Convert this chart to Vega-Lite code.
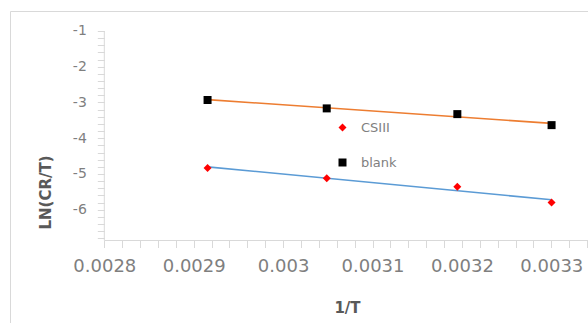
{
  "$schema": "https://vega.github.io/schema/vega-lite/v6.json",
  "width": 583,
  "height": 317,
  "autosize": "none",
  "padding": {"left": 10, "top": 11, "right": -5, "bottom": -5},
  "background": "white",
  "config": {"view": {"stroke": "#d9d9d9", "strokeWidth": 1}},
  "datasets": {
    "pts": [
      {"x": 0.0029155, "y": -2.93, "series": "blank"},
      {"x": 0.0030488, "y": -3.165, "series": "blank"},
      {"x": 0.0031949, "y": -3.325, "series": "blank"},
      {"x": 0.0033003, "y": -3.633, "series": "blank"},
      {"x": 0.0029155, "y": -4.83, "series": "CSIII"},
      {"x": 0.0030488, "y": -5.12, "series": "CSIII"},
      {"x": 0.0031949, "y": -5.36, "series": "CSIII"},
      {"x": 0.0033003, "y": -5.8, "series": "CSIII"}
    ],
    "axislines": [
      {"x": 0.0028, "x2": 0.00334664, "y": -6.86, "y2": -6.86},
      {"x": 0.0028, "x2": 0.0028, "y": -6.86, "y2": -1}
    ]
  },
  "data": {"name": "pts"},
  "layer": [
    {
      "data": {"name": "axislines"},
      "mark": {"type": "rule", "color": "#d9d9d9", "strokeWidth": 1},
      "encoding": {
        "x": {"field": "x", "type": "quantitative"},
        "x2": {"field": "x2"},
        "y": {"field": "y", "type": "quantitative"},
        "y2": {"field": "y2"}
      }
    },
    {
      "transform": [{"filter": "datum.series === 'blank'"}, {"regression": "y", "on": "x"}],
      "mark": {"type": "line", "color": "#ED7D31", "strokeWidth": 1.6},
      "encoding": {
        "x": {"field": "x", "type": "quantitative"},
        "y": {"field": "y", "type": "quantitative"}
      }
    },
    {
      "transform": [{"filter": "datum.series === 'CSIII'"}, {"regression": "y", "on": "x"}],
      "mark": {"type": "line", "color": "#5B9BD5", "strokeWidth": 1.6},
      "encoding": {
        "x": {"field": "x", "type": "quantitative"},
        "y": {"field": "y", "type": "quantitative"}
      }
    },
    {
      "mark": {"type": "point", "filled": true, "opacity": 1},
      "encoding": {
        "x": {
          "field": "x", "type": "quantitative",
          "scale": {"domain": [0.00269452, 0.00334664], "nice": false, "zero": false},
          "axis": {
            "values": [0.0028, 0.00282, 0.00284, 0.00286, 0.00288, 0.0029, 0.00292, 0.00294, 0.00296, 0.00298, 0.003, 0.00302, 0.00304, 0.00306, 0.00308, 0.0031, 0.00312, 0.00314, 0.00316, 0.00318, 0.0032, 0.00322, 0.00324, 0.00326, 0.00328, 0.0033, 0.00332, 0.00334],
            "tickCount": 200,
            "offset": -87.5,
            "domain": false,
            "labelExpr": "abs(datum.value*10000 - round(datum.value*10000)) < 0.001 ? '' + datum.value : ''",
            "grid": false,
            "tickColor": "#d9d9d9",
            "tickSize": 7,
            "labelFont": "DejaVu Sans",
            "labelFontSize": 18,
            "labelColor": "#7f7f7f",
            "labelBaseline": "middle",
            "labelPadding": 19,
            "labelFlush": false,
            "labelOverlap": false,
            "title": "1/T",
            "titleFont": "DejaVu Sans",
            "titleFontSize": 15,
            "titleFontWeight": "bold",
            "titleColor": "#595959",
            "titleX": 337,
            "titleY": 67,
            "titleBaseline": "middle",
            "titleAlign": "center",
            "encode": {"ticks": {"update": {
              "y": {"signal": "abs(datum.value*10000 - round(datum.value*10000)) < 0.001 ? -2 : 0"},
              "y2": {"signal": "abs(datum.value*10000 - round(datum.value*10000)) < 0.001 ? 7 : -4"}
            }}}
          }
        },
        "y": {
          "field": "y", "type": "quantitative",
          "scale": {"domain": [-9.308, -0.4406], "nice": false, "zero": false},
          "axis": {
            "values": [-1, -1.2, -1.4, -1.6, -1.8, -2, -2.2, -2.4, -2.6, -2.8, -3, -3.2, -3.4, -3.6, -3.8, -4, -4.2, -4.4, -4.6, -4.8, -5, -5.2, -5.4, -5.6, -5.8, -6, -6.2, -6.4, -6.6, -6.8],
            "tickCount": 200,
            "offset": -94.3,
            "domain": false,
            "labelExpr": "abs(datum.value - round(datum.value)) < 0.001 ? '' + datum.value : ''",
            "grid": false,
            "tickColor": "#d9d9d9",
            "tickSize": 7,
            "labelFont": "DejaVu Sans",
            "labelFontSize": 14,
            "labelColor": "#7f7f7f",
            "labelPadding": 11,
            "labelOverlap": false,
            "labelFlush": false,
            "title": "LN(CR/T)",
            "titleFont": "DejaVu Sans",
            "titleFontSize": 15,
            "titleFontWeight": "bold",
            "titleColor": "#595959",
            "titleX": -59,
            "titleY": 181,
            "titleAngle": -90,
            "titleBaseline": "middle",
            "titleAlign": "center",
            "encode": {"ticks": {"update": {
              "x": {"signal": "abs(datum.value - round(datum.value)) < 0.001 ? 6 : 0"},
              "x2": {"signal": "abs(datum.value - round(datum.value)) < 0.001 ? -7 : 5"}
            }}}
          }
        },
        "color": {
          "field": "series", "type": "nominal",
          "scale": {"domain": ["CSIII", "blank"], "range": ["#FF0000", "#000000"]},
          "legend": {
            "orient": "none", "legendX": 326, "legendY": 110, "title": null,
            "symbolSize": 30, "labelFont": "DejaVu Sans", "labelFontSize": 13,
            "labelColor": "#7f7f7f", "rowPadding": 21, "labelOffset": 12, "padding": 0
          }
        },
        "shape": {
          "field": "series", "type": "nominal",
          "scale": {"domain": ["CSIII", "blank"], "range": ["diamond", "square"]}
        },
        "size": {
          "field": "series", "type": "nominal",
          "scale": {"domain": ["CSIII", "blank"], "range": [64, 64]},
          "legend": null
        }
      }
    }
  ]
}
